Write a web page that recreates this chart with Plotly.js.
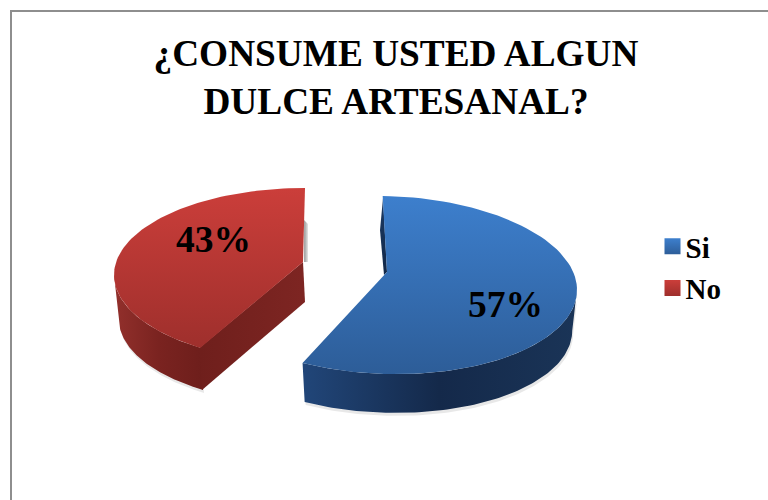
<!DOCTYPE html>
<html>
<head>
<meta charset="utf-8">
<script src="https://cdn.plot.ly/plotly-3.0.1.min.js"></script>
<style>html,body{margin:0;padding:0;background:#fff}#chart{width:768px;height:500px}</style>
</head>
<body>
<div id="chart"></div>
<script>
const categories = ["Si", "No"];
const shares = [57, 43];
const chartTitle = "¿CONSUME USTED ALGUN<br>DULCE ARTESANAL?";

// Drawing set-up: the chart space uses the picture's pixel grid as its axes.
const serif = '"Liberation Serif", "Times New Roman", serif';
const A = 191, SHRINK = 0.975;
const total = shares.reduce((s, v) => s + v, 0);
const cutDeg = shares[0] / total * 360;

function arc(c, from, to, dy, k) {
  const xs = [], ys = [];
  const n = 90;
  for (let i = 0; i <= n; i++) {
    const t = (from + (to - from) * i / n) * Math.PI / 180;
    const x = c.cx + A * k * Math.sin(t);
    xs.push(x);
    ys.push(c.cy + dy - c.b * k * Math.cos(t) + c.skew * (x - c.cx));
  }
  return {xs, ys};
}
function poly(xs, ys, fillgradient, extra) {
  return Object.assign({
    type: "scatter", mode: "lines", x: xs, y: ys, fill: "toself",
    line: {width: 0}, fillgradient, hoverinfo: "skip", showlegend: false
  }, extra || {});
}
function grad(type, colors, start, stop) {
  return {type, start, stop,
    colorscale: colors.map((c, i) => [i / (colors.length - 1), c])};
}
function shadow(xs, ys, dx, dy, color) {
  return {type: "scatter", mode: "lines", x: xs.map(v => v + dx), y: ys.map(v => v + dy),
    fill: "toself", fillcolor: color, line: {width: 0}, hoverinfo: "skip", showlegend: false};
}

// Slice frames: pulled apart, and the cuts are skewed a little by the 3D perspective.
const blue = {cx: 386, cy: 285, b: 89, skew: 0.025, depth: 41, ax: 387, ay: 272, from: -1, to: cutDeg + 0.7};
const red  = {cx: 305, cy: 275, b: 87, skew: 0, depth: 44, ax: 303, ay: 262, from: cutDeg + 8, to: 360};

function sliceTraces(s, o) {
  const top = arc(s, s.from, s.to, 0, 1);
  const wFrom = Math.max(s.from, 90), wTo = Math.min(s.to, 270);
  const up = arc(s, wFrom, wTo, 0, 1);
  const lo = arc(s, wFrom, wTo, s.depth, SHRINK);
  const wx = up.xs.concat(lo.xs.slice().reverse());
  const wy = up.ys.concat(lo.ys.slice().reverse());
  const traces = [];
  traces.push(shadow(wx, wy, 1, 3, "rgba(0,0,0,0.09)"));
  traces.push(poly(wx, wy, grad("horizontal", o.wallColors, o.wallStart, o.wallStop)));
  traces.push(poly(o.cutX(top, lo), o.cutY(top, lo), grad("horizontal", o.cutColors, o.cutStart, o.cutStop)));
  traces.push(poly([s.ax].concat(top.xs, [s.ax]), [s.ay].concat(top.ys, [s.ay]),
    grad("vertical", o.topColors, o.topStart, o.topStop)));
  return traces;
}

const redTraces = sliceTraces(red, {
  cutX: (t, lo) => [red.ax, t.xs[0] - 1, lo.xs[0] - 1, red.ax + 2],
  cutY: (t, lo) => [red.ay, t.ys[0], lo.ys[0], red.ay + 40],
  cutColors: ["#6f1f1c", "#7d2522"], cutStart: 200, cutStop: 302,
  wallColors: ["#93302c", "#7a2320", "#6d1e1b"], wallStart: 113, wallStop: 205,
  topColors: ["#cb3e3a", "#9e2f2c"], topStart: 188, topStop: 350
});
const redFlank = poly(
  [red.ax + 1, red.ax + 5, red.ax + 5, red.ax + 1],
  [red.ay - 42, red.ay - 38, red.ay, red.ay],
  grad("horizontal", ["#a8a8a8", "#e6e6e6"], red.ax + 2, red.ax + 5));

const blueTraces = sliceTraces(blue, {
  cutX: t => { const x = t.xs[t.xs.length - 1]; return [x, blue.ax]; },
  cutY: t => { const y = t.ys[t.ys.length - 1]; return [y, blue.ay]; },
  cutColors: ["#1c3a63", "#1c3a63"], cutStart: 300, cutStop: 390,
  wallColors: ["#214679", "#14294a", "#1a3457"], wallStart: 303, wallStop: 575,
  topColors: ["#3d7fcd", "#2d5d98"], topStart: 196, topStop: 374
});
const blueFlank = poly(
  [blue.ax - 4, blue.ax - 7, blue.ax - 3, blue.ax],
  [blue.ay - 74, blue.ay - 42, blue.ay + 3, blue.ay],
  grad("vertical", ["#1c3a63", "#12294a"], blue.ay - 74, blue.ay));

const swatches = [["#3d7fcd", "#2d5d98"], ["#cb3e3a", "#9e2f2c"]];
const legendTraces = categories.map((name, i) => ({
  type: "scatter", mode: "markers", name, legendgroup: name,
  x: [-100], y: [-100],
  marker: {symbol: "square", size: 16, color: swatches[i][0],
    gradient: {type: "vertical", color: swatches[i][1]}},
  hoverinfo: "skip"
}));

const layout = {
  width: 768, height: 500,
  margin: {l: 0, r: 0, t: 0, b: 0},
  paper_bgcolor: "#fff", plot_bgcolor: "#fff",
  xaxis: {range: [0, 768], visible: false, fixedrange: true},
  yaxis: {range: [500, 0], visible: false, fixedrange: true},
  title: {
    text: chartTitle, x: 396 / 768, xanchor: "center", y: 1 - 66 / 500, yanchor: "top",
    font: {family: serif, size: 37.3, color: "#000", weight: 700}
  },
  legend: {
    x: 652.5 / 768, y: 1 - 221 / 500, xanchor: "left", yanchor: "top",
    traceorder: "grouped", tracegroupgap: 1, bgcolor: "rgba(0,0,0,0)",
    font: {family: serif, size: 29, color: "#000", weight: 700}, itemwidth: 30
  },
  shapes: [
    {type: "line", xref: "x", yref: "y", x0: 10, x1: 768, y0: 11, y1: 11, line: {color: "#8e8e8e", width: 2}},
    {type: "line", xref: "x", yref: "y", x0: 11, x1: 11, y0: 10, y1: 500, line: {color: "#8e8e8e", width: 2}}
  ],
  annotations: [
    {x: 213, y: 239, text: shares[1] + "%"},
    {x: 505.5, y: 304, text: shares[0] + "%"}
  ].map(a => Object.assign(a, {
    xref: "x", yref: "y", showarrow: false, xanchor: "center", yanchor: "middle",
    font: {family: serif, size: 37.5, color: "#000", weight: 700}
  }))
};

Plotly.newPlot("chart",
  [redFlank].concat(redTraces, [blueFlank], blueTraces, legendTraces),
  layout, {displayModeBar: false, staticPlot: true}
).then(gd => {
  // The legend's swatch-to-label gap is tighter in the reference than the library's minimum.
  gd.querySelectorAll(".legendtext").forEach(t => {
    t.setAttribute("x", parseFloat(t.getAttribute("x")) - 7);
  });
});
</script>
</body>
</html>
